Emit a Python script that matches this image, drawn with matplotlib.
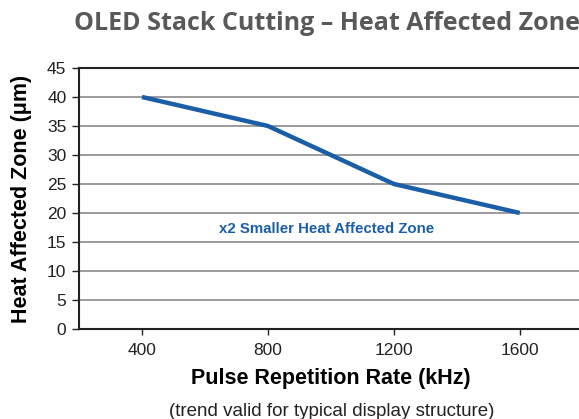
import matplotlib.pyplot as plt

rates = [400, 800, 1200, 1600]
haz = [40, 35, 25, 20]
x_ticks = [400, 800, 1200, 1600]
y_ticks = list(range(0, 50, 5))

plt.rcParams['font.family'] = ['Liberation Sans', 'DejaVu Sans']

fig = plt.figure(figsize=(5.79, 4.19), dpi=100)
ax = fig.add_axes([0.1364, 0.2148, 0.87, 0.623])

ax.plot(rates, haz, color='#1b5ea8', linewidth=3.2, solid_capstyle='butt', zorder=3)

ax.set_xlim(200, 1800)
ax.set_ylim(0, 45)
ax.set_xticks(x_ticks)
ax.set_yticks(y_ticks)
ax.tick_params(axis='both', labelsize=12.5, direction='out', width=1, colors='#222222')
ax.tick_params(axis='x', length=4, pad=6)
ax.tick_params(axis='y', length=5, pad=4)
ax.yaxis.grid(True, color='#8a8a8a', linewidth=1.2)
ax.set_axisbelow(True)
ax.spines['right'].set_visible(False)
for s in ['left', 'bottom', 'top']:
    ax.spines[s].set_linewidth(1.5)
    ax.spines[s].set_color('#222222')

ax.text(987, 17.3, 'x2 Smaller Heat Affected Zone', color='#1b5ea8', fontsize=10.8,
        fontweight='bold', ha='center', va='center')

ax.set_ylabel('Heat Affected Zone (μm)', fontsize=15.5, fontweight='bold', labelpad=11)
ax.set_xlabel('Pulse Repetition Rate (kHz)', fontsize=15.5, fontweight='bold', labelpad=7)
fig.text(0.572, 0.019, '(trend valid for typical display structure)', fontsize=13.5,
         ha='center', va='center', color='#222222')
fig.text(0.565, 0.944, 'OLED Stack Cutting – Heat Affected Zone', fontsize=18,
         fontweight='bold', family='Open Sans', color='#58595b', ha='center', va='center')

fig.savefig('out.png', dpi=100)
